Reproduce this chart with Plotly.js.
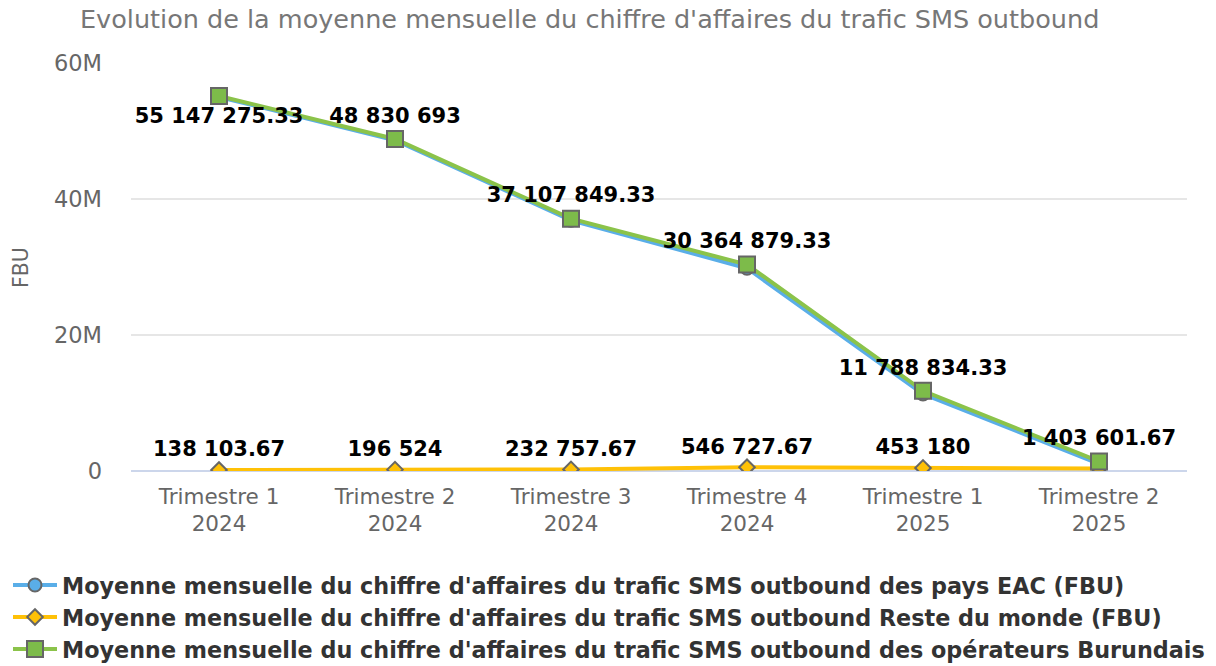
<!DOCTYPE html>
<html>
<head>
<meta charset="utf-8">
<script src="https://cdn.plot.ly/plotly-3.0.1.min.js"></script>
<style>html,body{margin:0;padding:0;background:#fff;}#chart{width:1216px;height:666px;}</style>
</head>
<body>
<div id="chart"></div>
<script>
var categories = ["Trimestre 1<br>2024", "Trimestre 2<br>2024", "Trimestre 3<br>2024", "Trimestre 4<br>2024", "Trimestre 1<br>2025", "Trimestre 2<br>2025"];
var eacValues = [55009171.66, 48634169, 36875091.66, 29818151.66, 11335654.33, 1053601.67];
var resteValues = [138103.67, 196524, 232757.67, 546727.67, 453180, 350000];
var burundiValues = [55147275.33, 48830693, 37107849.33, 30364879.33, 11788834.33, 1403601.67];
var seriesNames = [
  "Moyenne mensuelle du chiffre d'affaires du trafic SMS outbound des pays EAC (FBU)",
  "Moyenne mensuelle du chiffre d'affaires du trafic SMS outbound Reste du monde (FBU)",
  "Moyenne mensuelle du chiffre d'affaires du trafic SMS outbound des opérateurs Burundais"
];
var yTickVals = [0, 20000000, 40000000, 60000000];
var yTickText = ["0", "20M", "40M", "60M"];

function fmt(v) {
  var r = Math.round(v * 100) / 100;
  var parts = r.toFixed(2).split(".");
  var intPart = parts[0].replace(/\B(?=(\d{3})+(?!\d))/g, " ");
  var dec = parts[1].replace(/0+$/, "");
  return dec ? intPart + "." + dec : intPart;
}

var x = categories.map(function(c, i){ return i; });
var resteText = resteValues.map(function(v, i){ return i === 5 ? "" : fmt(v); });
var burundiText = burundiValues.map(fmt);
var burundiPos = burundiValues.map(function(v, i){ return i === 0 ? "bottom center" : "top center"; });

var labelFont = {family: "DejaVu Sans", size: 21, color: "#000", weight: "bold"};

var traces = [
  {
    x: x, y: eacValues, name: seriesNames[0], type: "scatter", mode: "lines+markers",
    line: {color: "#5aaee8", width: 4},
    marker: {symbol: "circle", size: 13, color: "#5aaee8", line: {color: "#666", width: 2}},
    hoverinfo: "y"
  },
  {
    x: x, y: resteValues, name: seriesNames[1], type: "scatter", mode: "lines+markers+text",
    line: {color: "#ffc107", width: 4},
    marker: {symbol: "diamond", size: 12, color: "#ffc107", line: {color: "#666", width: 2}},
    text: resteText, textposition: "top center", textfont: labelFont,
    hoverinfo: "y"
  },
  {
    x: x, y: burundiValues, name: seriesNames[2], type: "scatter", mode: "lines+markers+text",
    line: {color: "#8bc34a", width: 4},
    marker: {symbol: "square", size: 16, color: "#7dbb4a", line: {color: "#666", width: 2}},
    text: burundiText, textposition: burundiPos, textfont: labelFont,
    hoverinfo: "y"
  }
];

var layout = {
  width: 1216, height: 666,
  margin: {l: 131, r: 29, t: 63, b: 195, autoexpand: false},
  paper_bgcolor: "#fff", plot_bgcolor: "#fff",
  title: {text: "Evolution de la moyenne mensuelle du chiffre d'affaires du trafic SMS outbound",
          font: {family: "DejaVu Sans", size: 25.5, color: "#777"},
          x: 80/1216, xanchor: "left", xref: "container", y: 1 - 19/666, yanchor: "middle", yref: "container"},
  xaxis: {
    range: [-0.5, 5.5], tickvals: x, ticktext: categories,
    showgrid: false, zeroline: false, showline: false, ticks: "",
    tickfont: {family: "DejaVu Sans", size: 21.5, color: "#666"},
    tickangle: 0, automargin: false, ticklabelstandoff: 10,
    fixedrange: true
  },
  yaxis: {
    range: [0, 60000000], tickvals: yTickVals, ticktext: yTickText,
    showgrid: true, gridcolor: "#e6e6e6", gridwidth: 1.5,
    zeroline: true, zerolinecolor: "#ccd6eb", zerolinewidth: 1.5,
    showline: false, ticks: "", ticklen: 0, automargin: false,
    tickfont: {family: "DejaVu Sans", size: 22.5, color: "#666"},
    ticklabelstandoff: 28,
    fixedrange: true
  },
  annotations: [{
    text: "FBU", textangle: -90, xref: "paper", yref: "paper",
    x: (21 - 131)/1056, y: (471 - 268)/408, xanchor: "center", yanchor: "middle",
    showarrow: false, font: {family: "DejaVu Sans", size: 20.5, color: "#666"}
  }],
  showlegend: true,
  legend: {
    orientation: "v", xref: "container", yref: "container",
    x: 8/1216, xanchor: "left", y: (666 - 564)/666, yanchor: "top",
    font: {family: "DejaVu Sans", size: 22.3, color: "#333", weight: "bold"},
    itemwidth: 44, tracegroupgap: 2
  }
};

Plotly.newPlot("chart", traces, layout, {displayModeBar: false, staticPlot: true});
</script>
</body>
</html>
